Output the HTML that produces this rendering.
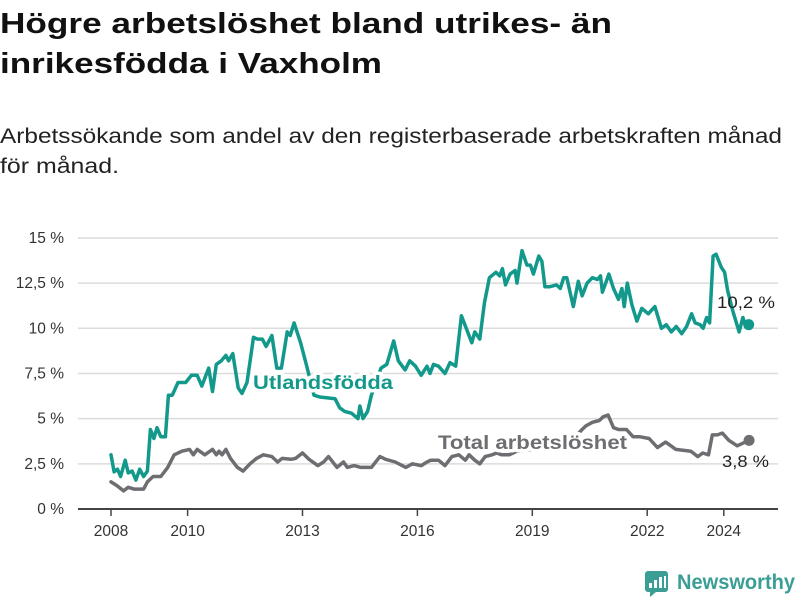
<!DOCTYPE html>
<html><head><meta charset="utf-8">
<style>
html,body{margin:0;padding:0;background:#fff;}
svg{display:block;font-family:"Liberation Sans",sans-serif;}
</style></head>
<body>
<svg id="chart" width="800" height="600" viewBox="0 0 800 600">
  <text x="0" y="33" font-size="29" font-weight="bold" fill="#111" textLength="612" lengthAdjust="spacingAndGlyphs">Högre arbetslöshet bland utrikes- än</text>
  <text x="0" y="73" font-size="29" font-weight="bold" fill="#111" textLength="382" lengthAdjust="spacingAndGlyphs">inrikesfödda i Vaxholm</text>
  <text x="0" y="143" font-size="21" fill="#222" textLength="782" lengthAdjust="spacingAndGlyphs">Arbetssökande som andel av den registerbaserade arbetskraften månad</text>
  <text x="0" y="173" font-size="21" fill="#222" textLength="119" lengthAdjust="spacingAndGlyphs">för månad.</text>
  <g id="grid"></g>
  <g id="xaxis"></g>
  <g id="series"></g>
  <g id="labels"></g>
  <g>
    <rect x="645" y="571" width="23" height="21" rx="3" fill="#3a9e94"/>
    <polygon points="650,592 656,592 650,597" fill="#3a9e94"/>
    <rect x="649" y="583" width="3" height="5" fill="#fff"/>
    <rect x="654" y="580" width="3" height="8" fill="#fff"/>
    <rect x="659" y="577" width="3" height="11" fill="#fff"/>
    <rect x="664" y="576" width="2" height="12" fill="#fff"/>
    <text x="677" y="589" font-size="21" font-weight="bold" fill="#3a9e94" textLength="118" lengthAdjust="spacingAndGlyphs">Newsworthy</text>
  </g>
</svg>
<script>
const yTicks = [0, 2.5, 5, 7.5, 10, 12.5, 15];
const yTickLabels = ["0 %", "2,5 %", "5 %", "7,5 %", "10 %", "12,5 %", "15 %"];
const xTicks = [2008, 2010, 2013, 2016, 2019, 2022, 2024];
const xTickLabels = ["2008", "2010", "2013", "2016", "2019", "2022", "2024"];

const foreignDates = [2008.0,2008.08,2008.17,2008.25,2008.37,2008.45,2008.55,2008.65,2008.75,2008.85,2008.95,2009.03,2009.12,2009.2,2009.3,2009.42,2009.5,2009.6,2009.75,2009.95,2010.1,2010.25,2010.37,2010.55,2010.65,2010.75,2010.88,2011.0,2011.07,2011.18,2011.32,2011.42,2011.55,2011.72,2011.82,2011.95,2012.05,2012.2,2012.33,2012.45,2012.6,2012.68,2012.78,2012.95,2013.1,2013.3,2013.45,2013.85,2013.97,2014.1,2014.28,2014.45,2014.5,2014.58,2014.7,2014.8,2015.05,2015.2,2015.38,2015.5,2015.68,2015.8,2015.95,2016.1,2016.25,2016.33,2016.42,2016.55,2016.72,2016.85,2017.0,2017.15,2017.42,2017.5,2017.63,2017.75,2017.88,2018.05,2018.15,2018.22,2018.3,2018.42,2018.55,2018.6,2018.73,2018.86,2018.95,2019.03,2019.17,2019.25,2019.33,2019.46,2019.63,2019.73,2019.82,2019.9,2020.07,2020.2,2020.3,2020.43,2020.57,2020.7,2020.78,2020.83,2021.0,2021.12,2021.25,2021.34,2021.4,2021.48,2021.6,2021.73,2021.86,2022.03,2022.2,2022.37,2022.5,2022.63,2022.76,2022.9,2023.03,2023.16,2023.25,2023.38,2023.46,2023.55,2023.63,2023.72,2023.8,2023.93,2024.02,2024.1,2024.23,2024.4,2024.5,2024.57,2024.65];
const foreignValues = [3.0,2.06,2.2,1.8,2.7,2.0,2.1,1.6,2.2,1.8,2.1,4.4,3.9,4.5,4.0,4.0,6.3,6.3,7.0,7.0,7.4,7.4,6.8,7.8,6.5,8.0,8.2,8.5,8.2,8.6,6.7,6.4,7.0,9.5,9.4,9.4,9.0,9.6,7.8,7.8,9.8,9.6,10.3,9.2,8.0,6.3,6.2,6.1,5.6,5.4,5.3,5.0,5.7,5.0,5.4,6.3,7.8,8.0,9.3,8.2,7.7,8.2,7.9,7.4,7.9,7.5,8.0,7.9,7.5,8.1,7.9,10.7,9.2,9.8,9.4,11.4,12.8,13.1,12.9,13.3,12.4,13.0,13.2,12.5,14.3,13.5,13.5,13.0,14.0,13.7,12.3,12.3,12.4,12.2,12.8,12.8,11.2,12.6,11.8,12.5,12.8,12.7,12.9,12.0,13.0,12.2,11.6,12.2,11.2,12.5,11.3,10.4,11.1,10.8,11.2,10.0,10.2,9.8,10.1,9.7,10.1,10.8,10.3,10.2,10.0,10.6,10.3,14.0,14.1,13.4,13.1,12.1,11.0,9.8,10.6,10.1,10.2];

const totalDates = [2008.0,2008.15,2008.33,2008.45,2008.6,2008.85,2008.95,2009.1,2009.3,2009.48,2009.65,2009.85,2010.05,2010.15,2010.25,2010.45,2010.65,2010.75,2010.82,2010.9,2011.0,2011.12,2011.3,2011.45,2011.63,2011.8,2011.98,2012.2,2012.35,2012.47,2012.7,2012.82,2013.0,2013.17,2013.4,2013.55,2013.68,2013.9,2014.07,2014.17,2014.35,2014.52,2014.8,2015.02,2015.17,2015.42,2015.7,2015.87,2016.1,2016.25,2016.35,2016.55,2016.72,2016.9,2017.08,2017.25,2017.35,2017.5,2017.63,2017.77,2017.95,2018.07,2018.2,2018.4,2018.6,2019.0,2019.5,2019.9,2020.3,2020.4,2020.57,2020.75,2020.85,2020.98,2021.12,2021.25,2021.46,2021.63,2021.8,2022.05,2022.27,2022.48,2022.75,2023.14,2023.32,2023.45,2023.6,2023.7,2023.83,2023.96,2024.13,2024.35,2024.66];
const totalValues = [1.5,1.3,1.0,1.2,1.1,1.1,1.5,1.8,1.8,2.3,3.0,3.2,3.3,3.0,3.3,3.0,3.3,3.0,3.2,3.0,3.3,2.8,2.3,2.1,2.5,2.8,3.0,2.9,2.6,2.8,2.75,2.8,3.1,2.75,2.4,2.6,2.9,2.3,2.6,2.3,2.4,2.3,2.3,2.9,2.75,2.6,2.3,2.5,2.4,2.6,2.7,2.7,2.4,2.9,3.0,2.7,3.0,2.7,2.5,2.9,3.0,3.1,3.0,3.0,3.2,3.3,3.4,3.5,4.4,4.6,4.8,4.9,5.1,5.2,4.5,4.4,4.4,4.0,4.0,3.9,3.4,3.7,3.3,3.2,2.9,3.1,3.0,4.1,4.1,4.2,3.8,3.5,3.8];

const NS = "http://www.w3.org/2000/svg";
const X0 = 111, PX_PER_YEAR = 38.3, Y0 = 509, PX_PER_PCT = 18.07;
function xScale(t){ return X0 + (t - 2008) * PX_PER_YEAR; }
function yScale(v){ return Y0 - v * PX_PER_PCT; }
function mk(tag, attrs, parent){
  const el = document.createElementNS(NS, tag);
  for (const k in attrs) el.setAttribute(k, attrs[k]);
  parent.appendChild(el);
  return el;
}
const grid = document.getElementById('grid');
yTicks.forEach((v, i) => {
  if (v > 0) {
    const gl = mk('line', {x1:78, x2:778, y1:yScale(v), y2:yScale(v), stroke:'#dcdcdc', 'stroke-width':1.5}, grid);
    
    
  }
  const t = mk('text', {x:64, y:yScale(v)+5, 'text-anchor':'end', 'font-size':15.5, fill:'#333'}, grid);
  t.textContent = yTickLabels[i];
  
  
});
const xa = document.getElementById('xaxis');
const axisLine = mk('line', {x1:78, x2:778, y1:Y0, y2:Y0, stroke:'#444', 'stroke-width':2}, xa);


xTicks.forEach((yr, i) => {
  const x = xScale(yr);
  const tk = mk('line', {x1:x, x2:x, y1:Y0, y2:Y0+7, stroke:'#444', 'stroke-width':1.5}, xa);
  
  
  const t = mk('text', {x:x, y:536, 'text-anchor':'middle', 'font-size':15.5, fill:'#333'}, xa);
  t.textContent = xTickLabels[i];
  
  
});
const ser = document.getElementById('series');
function drawLine(dates, vals, color, name){
  const n = Math.min(dates.length, vals.length) - 1;
  let d = '';
  for (let i = 0; i <= n; i++) d += (i ? 'L' : 'M') + xScale(dates[i]).toFixed(1) + ',' + yScale(vals[i]).toFixed(1) + ' ';
  const p = mk('path', {d:d, fill:'none', stroke:color, 'stroke-width':3.5, 'stroke-linejoin':'round', 'stroke-linecap':'round'}, ser);
  
  
  const c = mk('circle', {cx:xScale(dates[n]), cy:yScale(vals[n]), r:5.5, fill:color}, ser);
  
  
}
drawLine(totalDates, totalValues, '#6e6d72', 'total');
drawLine(foreignDates, foreignValues, '#12998b', 'foreign-born');

const lab = document.getElementById('labels');
function label(x, y, txt, color, bold, size, len, halo, name){
  const attrs = {x:x, y:y, 'font-size':size, 'font-weight':bold?'bold':'normal', fill:color, textLength:len, lengthAdjust:'spacingAndGlyphs'};
  if (halo) { attrs.stroke = '#fff'; attrs['stroke-width'] = 7; attrs['stroke-linejoin'] = 'round'; attrs['paint-order'] = 'stroke'; }
  const t = mk('text', attrs, lab);
  t.textContent = txt;
  
  
}
label(253, 389, 'Utlandsfödda', '#12998b', true, 19, 140, true, 'foreign-born-series-label');
label(438, 449, 'Total arbetslöshet', '#6e6d72', true, 19, 189, true, 'total-series-label');
label(717, 308, '10,2 %', '#222', false, 17, 58, false, 'foreign-born-end-value');
label(722, 467, '3,8 %', '#222', false, 17, 47, false, 'total-end-value');
</script>
</body></html>
